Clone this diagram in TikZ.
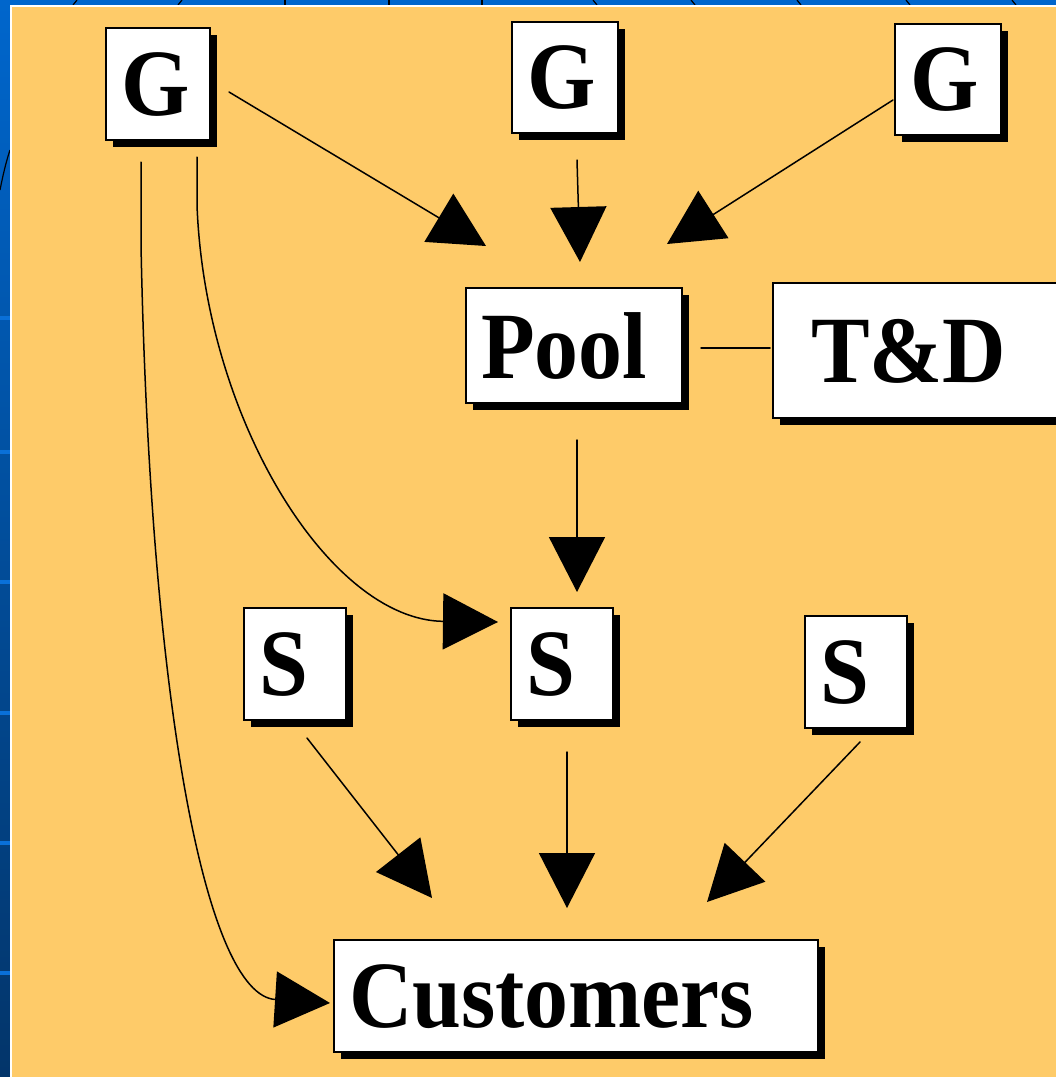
\documentclass[tikz,border=0pt]{standalone}
\usepackage{fontspec}
\usepackage{graphicx}
\setmainfont{Liberation Serif}
\usetikzlibrary{arrows.meta,shadows}
\definecolor{panel}{HTML}{FECB69}
\definecolor{deckblue}{HTML}{0066CC}
\definecolor{deepblue}{HTML}{03356A}
\definecolor{bandblue}{HTML}{0A70D8}
\newcommand\squeezed[1]{\scalebox{0.925}[1]{#1}}

\begin{document}
\begin{tikzpicture}[x=1bp,y=-1bp,
  card/.style={draw=black, line width=2bp, fill=white, inner ysep=0pt,
    inner xsep=15bp, minimum height=112bp, text depth=0pt, align=left,
    font=\fontsize{95bp}{100bp}\selectfont\bfseries,
    drop shadow={shadow xshift=7bp, shadow yshift=-7bp, fill=black, opacity=1}},
  link/.style={line width=1.5bp, line cap=round},
  flow/.style={link, -{Triangle[length=55bp,width=56bp]}},
  deco/.style={line width=1.2bp, black}]

\useasboundingbox (0,0) rectangle (1056,1077);
\clip (0,0) rectangle (1056,1077);

% slide background: blue frame, white rule, orange panel
\shade[top color=deckblue, bottom color=deepblue] (0,0) rectangle (1056,1077);
\foreach \y in {318,452,582,713,843,973}
  \fill[bandblue] (0,\y-2) rectangle (10,\y+2);
\draw[deco] (0,190) .. controls (3,175) and (6,162) .. (10,150);
\foreach \x in {75,180}
  \draw[deco] (\x-2,5) -- (\x+2,0);
\foreach \x in {285,389,482}
  \draw[deco] (\x,0) -- (\x,5);
\foreach \x in {595,693,799,908,1014}
  \draw[deco] (\x-2,0) -- (\x+2,5);
\fill[white] (10,5) rectangle (1056,1077);
\fill[panel] (12,7) rectangle (1056,1077);

% generators, pool, transmission, suppliers, customers
\node[card, text width=74bp] (g1) at (158,84) {\squeezed{G}};
\node[card, text width=76bp, minimum height=111bp] (g2) at (565,77.5) {\squeezed{G}};
\node[card, text width=76bp, minimum height=111bp] (g3) at (948,79.5) {\squeezed{G}};
\node[card, text width=186bp, minimum height=115bp] (pool) at (574,345.5) {\squeezed{Pool}};
\node[card, inner xsep=38bp, text width=224bp, minimum height=135bp] (td) at (923,350.5) {\squeezed{T\&D}};
\node[card, text width=72bp] (s1) at (295,664) {\squeezed{S}};
\node[card, text width=72bp] (s2) at (562,664) {\squeezed{S}};
\node[card, text width=72bp] (s3) at (856,672) {\squeezed{S}};
\node[card, text width=454bp] (cust) at (576,996) {\squeezed{Customers}};

% connector end points
\coordinate (g1out) at (229,92);
\coordinate (g1mid) at (197,157);
\coordinate (g1left) at (141,162);
\coordinate (g2out) at (577,160);
\coordinate (g3out) at (893,100);
\coordinate (poolinA) at (486,246);
\coordinate (poolinB) at (580,262);
\coordinate (poolinC) at (667,244);
\coordinate (poolout) at (577,440);
\coordinate (poolside) at (701,348);
\coordinate (tdside) at (770,348);
\coordinate (s2top) at (577,592);
\coordinate (s2left) at (498,622);
\coordinate (s1out) at (307,738);
\coordinate (s2out) at (567,752);
\coordinate (s3out) at (860,742);
\coordinate (custA) at (432,898);
\coordinate (custB) at (567,908);
\coordinate (custC) at (707,902);
\coordinate (custleft) at (330,1003);

% connectors
\draw[flow] (g1out) -- (poolinA);
\draw[flow] (g2out) -- (poolinB);
\draw[flow] (g3out) -- (poolinC);
\draw[link] (poolside) -- (tdside);
\draw[flow] (poolout) -- (s2top);
\draw[flow] (g1mid) -- (197,205) .. controls (205,420) and (330,620) .. (s2left);
\draw[flow] (g1left) -- (141,245) .. controls (150,700) and (205,995) .. (custleft);
\draw[flow] (s1out) -- (custA);
\draw[flow] (s2out) -- (custB);
\draw[flow] (s3out) -- (custC);
\end{tikzpicture}
\end{document}
